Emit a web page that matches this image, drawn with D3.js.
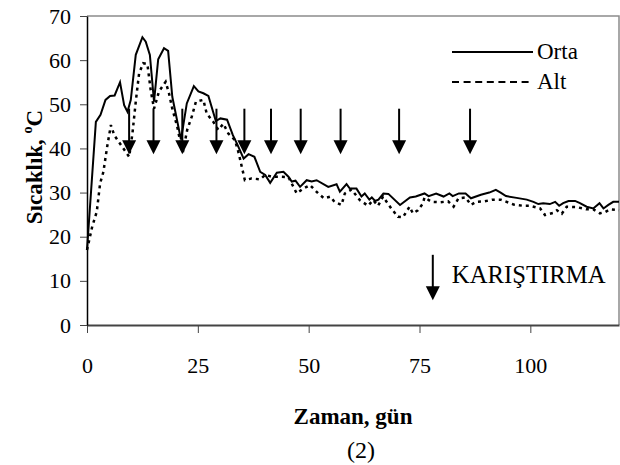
<!DOCTYPE html>
<html>
<head>
<meta charset="utf-8">
<script src="https://cdn.jsdelivr.net/npm/d3@7"></script>
<style>
  body { margin: 0; background: #fff; }
  svg text { fill: #000; }
</style>
</head>
<body>
<svg id="chart" width="620" height="465"></svg>
<script>
// data
var ortaDays = [0, 2.0, 3.05, 4.17, 5.2, 6.23, 7.45, 8.38, 9.13, 9.88, 11.0, 12.5, 13.25, 14.18, 15.12, 16.06, 17.37, 18.3, 19.24, 21.2, 22.51, 24.1, 25.13, 26.25, 27.38, 29.06, 30.09, 31.59, 32.9, 33.83, 35.33, 36.45, 37.76, 39.07, 40.2, 41.32, 42.82, 44.31, 45.44, 46.19, 47.03, 48.06, 49.55, 50.68, 51.8, 54.42, 56.29, 57.04, 58.54, 59.29, 60.78, 61.91, 62.65, 63.68, 64.24, 64.99, 65.74, 66.86, 67.98, 70.61, 72.85, 74.16, 76.13, 77.06, 78.75, 80.43, 81.74, 82.49, 83.89, 85.39, 86.61, 88.85, 90.73, 92.22, 93.3, 94.5, 96.9, 99.2, 100.7, 101.8, 102.9, 104.4, 105.6, 106.5, 107.4, 108.6, 110.1, 111.2, 112.7, 114.2, 115.6, 116.5, 117.6, 118.7, 120];
var ortaTemps = [17, 46, 47.6, 51, 51.9, 52, 55, 49.8, 48.3, 51, 61.2, 65.2, 64.2, 61.2, 50.6, 60.2, 62.7, 62.1, 51.7, 42, 50.2, 54.1, 52.9, 52.5, 51.9, 46.2, 46.8, 46.5, 43, 41.1, 37.7, 38.7, 38.1, 34.7, 34, 32.2, 34.5, 34.7, 33.6, 32.5, 32.7, 31.3, 32.8, 32.5, 32.8, 31.3, 31.9, 30.2, 31.9, 30.9, 30.9, 29.1, 29.8, 28.4, 28.9, 28.1, 28.4, 29.8, 29.7, 27.2, 28.9, 29.1, 29.8, 29.2, 29.8, 29.1, 29.8, 29.2, 29.8, 29.8, 28.7, 29.5, 30, 30.6, 30, 29.2, 28.8, 28.4, 27.9, 27.4, 27.6, 27.4, 27.9, 27, 27.6, 28.1, 28.1, 27.6, 26.8, 26.4, 27.6, 26.4, 27.2, 27.9, 27.9];

var altDays = [0, 1.18, 2.21, 2.96, 3.7, 4.55, 5.39, 6.14, 9.51, 10.25, 11.0, 11.75, 12.69, 13.62, 14.37, 15.12, 16.24, 17.74, 18.49, 19.24, 20.36, 21.58, 22.6, 23.63, 24.57, 26.25, 27.0, 28.5, 29.62, 30.75, 31.87, 33.37, 34.11, 34.49, 35.61, 37.11, 39.07, 40.2, 41.69, 43.57, 45.44, 47.31, 48.8, 50.3, 52.17, 53.48, 54.89, 55.82, 57.41, 58.16, 59.66, 61.53, 63.4, 64.52, 65.65, 66.77, 68.64, 70.14, 71.26, 72.76, 73.51, 74.63, 75.75, 76.13, 77.72, 79.59, 81.46, 82.68, 83.8, 85.39, 86.61, 87.73, 89.6, 91.47, 93.3, 96.2, 98.4, 99.9, 102.2, 103.3, 105.2, 106, 107.1, 108.2, 110.5, 112.7, 114.2, 115.7, 116.9, 118, 120];
var altTemps = [17, 22.3, 25.7, 32.1, 34.7, 40.4, 45.3, 43, 38.1, 43.4, 50.6, 57, 59.3, 59.1, 53.2, 49, 52.9, 55.1, 52.5, 49, 44.9, 38.9, 44.2, 47.2, 50.6, 51, 47.9, 46, 44.2, 45.6, 43.4, 41.9, 39.3, 37.7, 32.8, 33.2, 33, 34, 33.6, 33.6, 33.5, 29.8, 30.9, 31.7, 29.8, 28.7, 29.1, 27.9, 27.2, 29.8, 30.7, 28.3, 27, 28.3, 27, 29.1, 26.4, 24.5, 24.4, 26.8, 25.3, 26, 27.5, 28.9, 27.9, 27.8, 28, 26.8, 28.7, 28.9, 27.2, 27.9, 28, 28.4, 28.4, 27.3, 27, 27, 26.4, 24.9, 25.4, 26, 25.2, 26.8, 26.7, 26.2, 26.2, 25.3, 25.6, 26.2, 26];

// mixing (karıştırma) days
var mixDays = [9.5, 15, 21.5, 29.2, 35.5, 41.5, 48.2, 57.2, 70.4, 86.4];

var xTicks = [0, 25, 50, 75, 100];
var yTicks = [0, 10, 20, 30, 40, 50, 60, 70];

var seriesNames = ["Orta", "Alt"];

var width = 620, height = 465;
var margin = {top: 16, right: 1, bottom: 140, left: 87};
var serif = "'Times New Roman', 'Liberation Serif', serif";

var svg = d3.select("#chart");

var x = d3.scaleLinear().domain([0, 120]).range([margin.left, width - margin.right]);
var y = d3.scaleLinear().domain([0, 70]).range([height - margin.bottom, margin.top]);

// frame top + right
svg.append("path")
    .attr("d", `M${x(0)},${y(70)}H${x(120)}V${y(0)}`)
    .attr("fill", "none")
    .attr("stroke", "#8c8c8c")
    .attr("stroke-width", 1.5);

// x axis
let xAxis = svg.append("g")
    .attr("transform", `translate(0,${y(0)})`)
    .call(d3.axisBottom(x).tickValues(xTicks).tickSize(8).tickPadding(24).tickSizeOuter(0));
xAxis.attr("font-family", serif).attr("font-size", 22);
xAxis.select(".domain").attr("stroke", "#444").attr("stroke-width", 2);
xAxis.selectAll(".tick line").attr("stroke", "#444");

// y axis
let yAxis = svg.append("g")
    .attr("transform", `translate(${x(0)},0)`)
    .call(d3.axisLeft(y).tickValues(yTicks).tickSize(7).tickPadding(9).tickSizeOuter(0));
yAxis.attr("font-family", serif).attr("font-size", 22);
yAxis.select(".domain").attr("stroke", "#000").attr("stroke-width", 1.5);
yAxis.selectAll(".tick line").attr("stroke", "#444");

// series
let line = d3.line().x(d => x(d[0])).y(d => y(d[1]));

svg.append("path")
    .datum(d3.zip(ortaDays, ortaTemps))
    .attr("d", line)
    .attr("fill", "none")
    .attr("stroke", "#000")
    .attr("stroke-width", 2);

svg.append("path")
    .datum(d3.zip(altDays, altTemps))
    .attr("d", line)
    .attr("fill", "none")
    .attr("stroke", "#000")
    .attr("stroke-width", 2.5)
    .attr("stroke-dasharray", "3,4");

// mixing arrows
function arrow(g, px, top, tip) {
    g.append("line")
        .attr("x1", px).attr("x2", px)
        .attr("y1", top).attr("y2", tip - 12)
        .attr("stroke", "#000").attr("stroke-width", 2);
    g.append("path")
        .attr("d", `M${px - 7},${tip - 14}L${px + 7},${tip - 14}L${px},${tip}Z`)
        .attr("fill", "#000");
}
let arrows = svg.append("g");
mixDays.forEach(d => arrow(arrows, x(d), y(49), y(38.7)));

// arrow legend
arrow(svg, x(78), y(15.9), y(5.6));
svg.append("text")
    .attr("x", x(82.3)).attr("y", y(9.5))
    .attr("font-family", serif)
    .attr("font-size", 24.7)
    .text("KARIŞTIRMA");

// legend
let legend = svg.append("g").attr("font-family", serif);
seriesNames.forEach((name, i) => {
    let ly = 52 + i * 30;
    legend.append("line")
        .attr("x1", 452).attr("x2", 533)
        .attr("y1", ly).attr("y2", ly)
        .attr("stroke", "#000")
        .attr("stroke-width", 2)
        .attr("stroke-dasharray", i ? "7,4.6" : null);
    legend.append("text")
        .attr("x", 537).attr("y", ly + 7)
        .attr("font-size", 23)
        .text(name);
});

// axis titles
svg.append("text")
    .attr("x", 353).attr("y", 424)
    .attr("text-anchor", "middle")
    .attr("font-family", serif)
    .attr("font-size", 23)
    .attr("font-weight", "bold")
    .text("Zaman, gün");

svg.append("text")
    .attr("x", 361).attr("y", 458)
    .attr("text-anchor", "middle")
    .attr("font-family", serif)
    .attr("font-size", 24)
    .text("(2)");

let yt = svg.append("text")
    .attr("transform", "translate(42,167) rotate(-90)")
    .attr("text-anchor", "middle")
    .attr("font-family", serif)
    .attr("font-size", 23)
    .attr("font-weight", "bold");
yt.append("tspan").text("Sıcaklık, ");
yt.append("tspan").attr("font-size", 14).attr("dy", -10).text("o");
yt.append("tspan").attr("dy", 10).text("C");
</script>
</body>
</html>
